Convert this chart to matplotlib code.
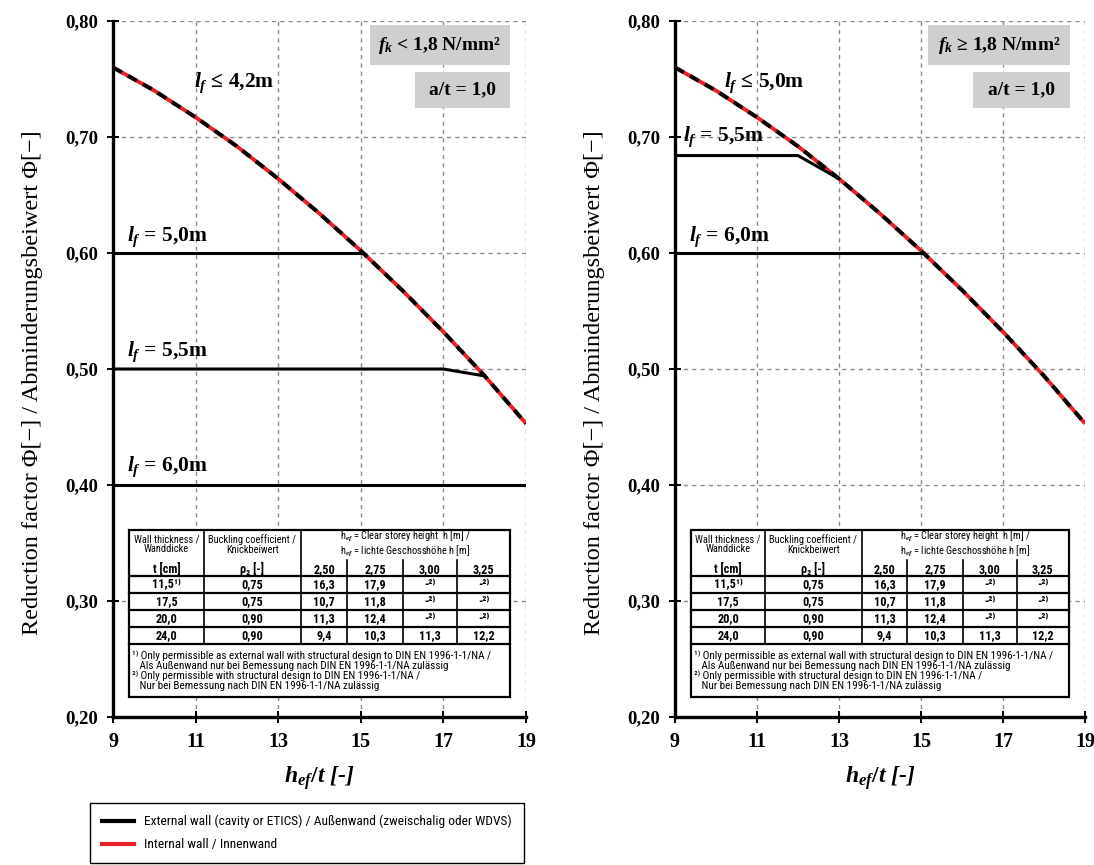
import matplotlib
matplotlib.use("Agg")
import matplotlib.pyplot as plt
from matplotlib.lines import Line2D
from matplotlib.patches import Rectangle

plt.rcParams["mathtext.fontset"] = "custom"
plt.rcParams["mathtext.it"] = "Liberation Serif:italic:bold"
plt.rcParams["mathtext.rm"] = "Liberation Serif:bold"
plt.rcParams["mathtext.bf"] = "Liberation Serif:bold"

SERIF = "Liberation Serif"
NARROW = ["Roboto Condensed", "Liberation Sans Narrow", "Liberation Sans", "DejaVu Sans"]

# envelope curve, h_ef/t against reduction factor (same in both charts)
slender = [9, 10, 11, 12, 13, 14, 15, 16, 17, 18, 19]
phi = [0.760, 0.740, 0.717, 0.692, 0.664, 0.634, 0.602, 0.568, 0.532, 0.494, 0.453]

# left chart, f_k < 1,8 N/mm2: caps for the span l_f
left_lf50_x, left_lf50_phi = [9, 15], [0.60, 0.60]
left_lf55_x, left_lf55_phi = [9, 17, 18], [0.50, 0.50, 0.494]
left_lf60_x, left_lf60_phi = [9, 19], [0.40, 0.40]
left_labels = ["$l_f$ ≤ 4,2m", "$l_f$ = 5,0m", "$l_f$ = 5,5m", "$l_f$ = 6,0m"]

# right chart, f_k >= 1,8 N/mm2
right_lf55_x, right_lf55_phi = [9, 12, 13], [0.684, 0.684, 0.664]
right_lf60_x, right_lf60_phi = [9, 15], [0.60, 0.60]
right_labels = ["$l_f$ ≤ 5,0m", "$l_f$ = 5,5m", "$l_f$ = 6,0m"]

x_ticks = [9, 11, 13, 15, 17, 19]
y_ticks = [0.2, 0.3, 0.4, 0.5, 0.6, 0.7, 0.8]
y_ticklabels = ["0,20", "0,30", "0,40", "0,50", "0,60", "0,70", "0,80"]

# inset table
wall_t = ["11,5¹⁾", "17,5", "20,0", "24,0"]
rho2 = ["0,75", "0,75", "0,90", "0,90"]
storey_h = ["2,50", "2,75", "3,00", "3,25"]
hef_t = [
    ["16,3", "17,9", "-²⁾", "-²⁾"],
    ["10,7", "11,8", "-²⁾", "-²⁾"],
    ["11,3", "12,4", "-²⁾", "-²⁾"],
    ["9,4", "10,3", "11,3", "12,2"],
]
footnotes = [
    "¹⁾ Only permissible as external wall with structural design to DIN EN 1996-1-1/NA /",
    "   Als Außenwand nur bei Bemessung nach DIN EN 1996-1-1/NA zulässig",
    "²⁾ Only permissible with structural design to DIN EN 1996-1-1/NA /",
    "   Nur bei Bemessung nach DIN EN 1996-1-1/NA zulässig",
]

RED = "#e8202a"


def draw_table(ax):
    T = ax.transAxes
    xs = [0.039, 0.220, 0.455, 0.567, 0.702, 0.833, 0.961]
    top, sub, hline, bottom = 0.2687, 0.2256, 0.2026, 0.0287
    rows = [0.2026, 0.178, 0.154, 0.129, 0.105]
    ax.add_patch(Rectangle((xs[0], bottom), xs[-1] - xs[0], top - bottom, transform=T,
                           facecolor="white", edgecolor="black", lw=1.6, zorder=5))
    kw = dict(transform=T, color="black", zorder=6)
    for y in rows:
        ax.add_line(Line2D([xs[0], xs[-1]], [y, y], lw=1.6, **kw))
    for x in xs[1:3]:
        ax.add_line(Line2D([x, x], [top, rows[-1]], lw=1.2, **kw))
    for x in xs[3:6]:
        ax.add_line(Line2D([x, x], [sub, rows[-1]], lw=1.2, **kw))
    tk = dict(transform=T, ha="center", va="center", family=NARROW, zorder=7)
    hk = dict(fontsize=7.5, linespacing=1.0, **tk)
    ax.text((xs[0] + xs[1]) / 2, 0.248, "Wall thickness /\nWanddicke", **hk)
    ax.text((xs[1] + xs[2]) / 2, 0.248, "Buckling coefficient /\nKnickbeiwert", **hk)
    ax.text((xs[2] + xs[-1]) / 2, 0.248,
            "h$_{ef}$ = Clear storey height  h [m] /\nh$_{ef}$ = lichte Geschosshöhe h [m]", **hk)
    nk = dict(fontsize=8.8, fontweight="bold", **tk)
    ymid = (sub + hline) / 2 - 0.002
    ax.text((xs[0] + xs[1]) / 2, ymid, "t [cm]", **nk)
    ax.text((xs[1] + xs[2]) / 2, ymid, "ρ₂ [-]", **nk)
    for j, h in enumerate(storey_h):
        ax.text((xs[2 + j] + xs[3 + j]) / 2, ymid, h, **nk)
    for i in range(4):
        yc = (rows[i] + rows[i + 1]) / 2
        ax.text((xs[0] + xs[1]) / 2, yc, wall_t[i], **nk)
        ax.text((xs[1] + xs[2]) / 2, yc, rho2[i], **nk)
        for j in range(4):
            ax.text((xs[2 + j] + xs[3 + j]) / 2, yc, hef_t[i][j], **nk)
    ax.text(xs[0] + 0.008, (rows[-1] + bottom) / 2, "\n".join(footnotes), transform=T,
            ha="left", va="center", family=NARROW, fontsize=8.0, linespacing=0.98, zorder=7)


def draw_box(ax, x0, x1, y0, y1, text):
    ax.add_patch(Rectangle((x0, y0), x1 - x0, y1 - y0, transform=ax.transAxes,
                           facecolor="#cfcfcf", edgecolor="none", zorder=4))
    ax.text((x0 + x1) / 2, (y0 + y1) / 2, text, transform=ax.transAxes, ha="center", va="center",
            family=SERIF, fontweight="bold", fontsize=14, zorder=5)


def setup(ax):
    ax.set_xlim(9, 19)
    ax.set_ylim(0.2, 0.8)
    ax.set_xticks(x_ticks)
    ax.set_xticklabels([str(v) for v in x_ticks], family=SERIF, fontweight="bold", fontsize=14.5)
    ax.set_yticks(y_ticks)
    ax.set_yticklabels(y_ticklabels, family=SERIF, fontweight="bold", fontsize=13.5)
    ax.tick_params(direction="inout", length=9, width=1.4, pad=6)
    for s in ("top", "right"):
        ax.spines[s].set_visible(False)
    for s in ("left", "bottom"):
        ax.spines[s].set_linewidth(2.4)
    ax.grid(True, color="#8a8a8a", lw=1.0, linestyle=(0, (3, 3)))
    ax.set_axisbelow(True)
    ax.set_ylabel("Reduction factor Φ[−] / Abminderungsbeiwert Φ[−]", family=SERIF, fontsize=17.5)
    ax.yaxis.set_label_coords(-0.17, 0.48)
    ax.set_xlabel("$h_{ef}/t$ [-]", family=SERIF, fontweight="bold", fontstyle="italic", fontsize=17)
    ax.xaxis.set_label_coords(0.5, -0.068)
    ax.plot(slender, phi, color=RED, lw=2.8, solid_capstyle="butt", zorder=3)
    ax.plot(slender, phi, color="black", lw=2.8, dashes=(2.6, 1.8), zorder=3.5)


fig = plt.figure(figsize=(10.94, 8.65), dpi=100)
ax1 = fig.add_axes([0.1033, 0.1711, 0.3775, 0.8046])
ax2 = fig.add_axes([0.617, 0.1711, 0.3748, 0.8046])
lab = dict(family=SERIF, fontweight="bold", fontsize=15.5, zorder=6)

setup(ax1)
for xs_, ys_ in [(left_lf50_x, left_lf50_phi), (left_lf55_x, left_lf55_phi), (left_lf60_x, left_lf60_phi)]:
    ax1.plot(xs_, ys_, color="black", lw=2.2, zorder=3)
ax1.text(10.95, 0.747, left_labels[0], ha="left", va="center", **lab)
ax1.text(9.35, 0.614, left_labels[1], ha="left", va="center", **lab)
ax1.text(9.35, 0.515, left_labels[2], ha="left", va="center", **lab)
ax1.text(9.35, 0.416, left_labels[3], ha="left", va="center", **lab)
draw_box(ax1, 0.622, 0.961, 0.937, 0.994, "$f_k$ < 1,8 N/mm²")
draw_box(ax1, 0.731, 0.961, 0.875, 0.927, "a/t = 1,0")
draw_table(ax1)

setup(ax2)
for xs_, ys_ in [(right_lf55_x, right_lf55_phi), (right_lf60_x, right_lf60_phi)]:
    ax2.plot(xs_, ys_, color="black", lw=2.2, zorder=3)
ax2.text(10.2, 0.747, right_labels[0], ha="left", va="center", **lab)
ax2.text(9.2, 0.700, right_labels[1], ha="left", va="center", **lab)
ax2.text(9.35, 0.614, right_labels[2], ha="left", va="center", **lab)
draw_box(ax2, 0.617, 0.963, 0.937, 0.994, "$f_k$ ≥ 1,8 N/mm²")
draw_box(ax2, 0.727, 0.963, 0.875, 0.927, "a/t = 1,0")
draw_table(ax2)

handles = [Line2D([], [], color="black", lw=3), Line2D([], [], color=RED, lw=3)]
fig.legend(handles, ["External wall (cavity or ETICS) / Außenwand (zweischalig oder WDVS)",
                     "Internal wall / Innenwand"],
           loc="upper left", bbox_to_anchor=(0.082, 0.0717), borderaxespad=0, frameon=True,
           fancybox=False, edgecolor="black", framealpha=1, prop={"family": NARROW, "size": 9.6},
           handlelength=2.4, borderpad=0.9, labelspacing=0.75)

fig.savefig("out.png", dpi=100)
